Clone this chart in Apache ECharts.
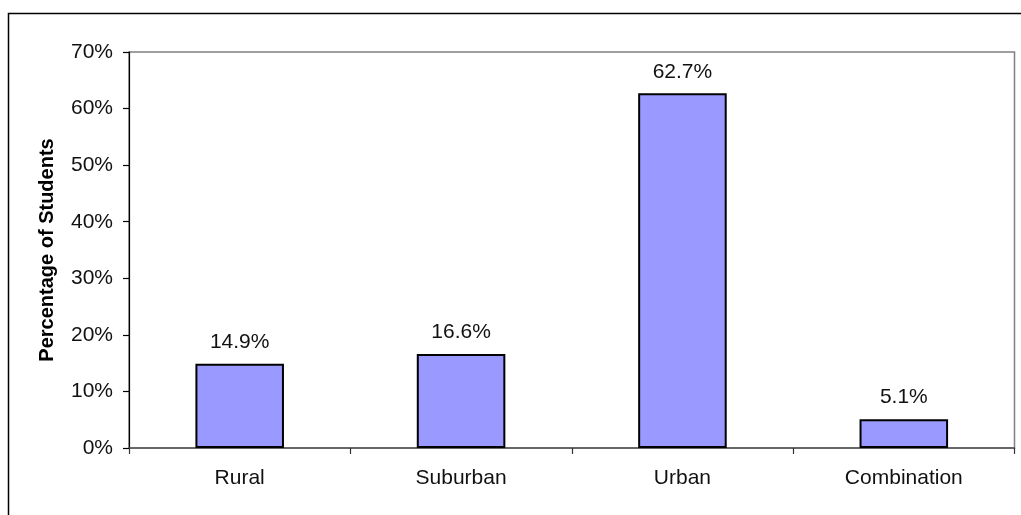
<!DOCTYPE html>
<html><head><meta charset="utf-8">
<script src="https://cdn.jsdelivr.net/npm/echarts@6/dist/echarts.min.js"></script>
<style>html,body{margin:0;padding:0;background:#fff}#c{width:1021px;height:515px}</style>
</head><body><div id="c"></div>
<script>
const categories = ['Rural', 'Suburban', 'Urban', 'Combination'];
const values = [14.9, 16.6, 62.7, 5.1];
const yTicks = [0, 10, 20, 30, 40, 50, 60, 70];
const yTitle = 'Percentage of Students';

const chart = echarts.init(document.getElementById('c'), null, {renderer: 'canvas'});
const font = 'Liberation Sans, Arial, sans-serif';
chart.setOption({
  animation: false,
  backgroundColor: '#fff',
  graphic: [{
    type: 'rect', shape: {x: 8.5, y: 13.5, width: 1030, height: 520},
    style: {fill: 'none', stroke: '#000', lineWidth: 1.5}, silent: true, z: 0
  }],
  grid: {left: 129, top: 52, right: 6.5, bottom: 67, show: true, borderColor: '#808080', borderWidth: 1.5, backgroundColor: 'transparent'},
  xAxis: {
    type: 'category', data: categories,
    axisLine: {lineStyle: {color: '#555', width: 1.5}},
    axisTick: {show: true, interval: 0, length: 6, lineStyle: {color: '#333', width: 1.2}},
    axisLabel: {color: '#111', fontSize: 21, fontFamily: font, margin: 20}
  },
  yAxis: {
    type: 'value', min: yTicks[0], max: yTicks[yTicks.length - 1], interval: 10,
    name: yTitle, nameLocation: 'middle', nameGap: 72, nameRotate: 90,
    nameTextStyle: {fontSize: 20, fontWeight: 'bold', fontFamily: font, color: '#000'},
    axisLine: {show: true, lineStyle: {color: '#000', width: 1.2}},
    axisTick: {show: true, length: 6, lineStyle: {color: '#000', width: 1.2}},
    splitLine: {show: false},
    axisLabel: {formatter: '{value}%', color: '#111', fontSize: 21, fontFamily: font, margin: 16}
  },
  series: [{
    type: 'bar', data: values, barWidth: '40%',
    itemStyle: {color: '#9999FF', borderColor: '#000', borderWidth: 2},
    label: {show: true, position: 'top', distance: 11, formatter: p => p.value.toFixed(1) + '%',
      color: '#111', fontSize: 21, fontFamily: font}
  }]
});
</script></body></html>
